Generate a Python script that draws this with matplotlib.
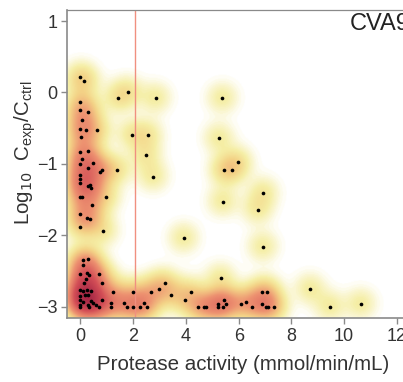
import numpy as np
import matplotlib
matplotlib.use("Agg")
import matplotlib.pyplot as plt
from matplotlib.colors import LinearSegmentedColormap

plt.rcParams['font.family'] = ['Liberation Sans', 'DejaVu Sans']

# protease activity (x) and log10 Cexp/Cctrl (y)
x_vals = [
    -0.03, 0.14, 0.00, 0.00, 0.27, 0.04, 0.00, 0.20, 0.64, 0.01, 0.00, 0.30, 0.04, 0.00, 0.47,
    0.28, 0.73, 0.83, 1.39, 0.00, 0.00, 0.00, 0.28, 0.35, 0.39, 0.00, 0.05, 0.97, 0.45, 0.00,
    0.23, 0.36, 0.00, 0.86,
    1.42, 1.80, 2.85, 5.38, 1.95, 2.56, 5.25, 2.48, 2.75, 5.96, 5.44, 5.73, 5.39, 6.94, 6.72,
    3.91, 6.92,
    0.09, 0.28, 0.11, 0.00, 0.25, 0.31, 0.71, 0.21, 0.15, 0.83, 0.00, 0.09, 0.23, 0.38, 1.25,
    2.01, 0.00, 0.16, 0.28, 0.00, 0.09, 0.40, 0.49, 0.83, 1.16, 1.64, 0.00, 0.30, 0.58, 0.00,
    0.31, 0.70, 1.14, 1.77, 2.01, 2.26, 2.42, 2.52, 2.69, 2.97, 3.19, 3.43, 3.96, 4.18, 4.47,
    4.68, 4.77, 5.31, 5.23, 5.23, 5.40, 5.45, 5.53, 6.10, 6.26, 6.50, 6.89, 7.06, 6.88, 7.02,
    7.11, 7.33, 8.71, 9.47, 10.64,
]
y_vals = [
    0.21, 0.16, -0.13, -0.24, -0.27, -0.39, -0.51, -0.53, -0.53, -0.63, -0.83, -0.82, -0.93, -1.00, -0.99,
    -1.05, -1.11, -1.09, -1.08, -1.15, -1.21, -1.26, -1.31, -1.29, -1.34, -1.46, -1.46, -1.46, -1.58, -1.70,
    -1.75, -1.77, -1.88, -1.94,
    -0.08, 0.01, -0.08, -0.08, -0.59, -0.59, -0.64, -0.88, -1.18, -0.97, -1.09, -1.08, -1.53, -1.40, -1.64,
    -2.04, -2.16,
    -2.35, -2.33, -2.41, -2.54, -2.53, -2.55, -2.54, -2.61, -2.67, -2.67, -2.76, -2.78, -2.77, -2.78, -2.79,
    -2.79, -2.85, -2.83, -2.84, -2.91, -2.93, -2.92, -2.95, -2.91, -2.95, -2.95, -2.97, -2.98, -2.97, -3.00,
    -3.00, -3.00, -3.00, -3.00, -3.00, -3.00, -2.95, -3.00, -2.79, -2.75, -2.67, -2.83, -2.91, -2.79, -3.00,
    -3.00, -3.00, -2.60, -2.96, -3.00, -3.00, -2.91, -2.96, -2.96, -2.93, -3.00, -2.79, -2.79, -2.96, -3.00,
    -3.00, -3.00, -2.75, -3.00, -2.96,
]
threshold_x = 2.07
title_text = "CVA9"
x_ticks = [0, 2, 4, 6, 8, 10, 12]
y_ticks = [-3, -2, -1, 0, 1]

W, H = 403, 382
fig = plt.figure(figsize=(W / 100, H / 100), dpi=100)
ax_left, ax_right = 67.3 / W, 418 / W
ax_bottom, ax_top = 1 - 318.3 / H, 1 - 10 / H
ax = fig.add_axes([ax_left, ax_bottom, ax_right - ax_left, ax_top - ax_bottom])

xlim = (-0.5, 12.8)
ylim = (-3.16, 1.154)
ax.set_xlim(*xlim)
ax.set_ylim(*ylim)

# density in pixel space
px_per_x = (ax_right - ax_left) * W / (xlim[1] - xlim[0])
px_per_y = (ax_top - ax_bottom) * H / (ylim[1] - ylim[0])
gx = np.linspace(xlim[0], xlim[1], 500)
gy = np.linspace(ylim[0], ylim[1], 400)
GX, GY = np.meshgrid(gx, gy)
D = np.zeros_like(GX)
sigma = 10.5
xs = np.array(x_vals)
ys = np.array(y_vals)
for xv, yv in zip(xs, ys):
    dx = (GX - xv) * px_per_x
    dy = (GY - yv) * px_per_y
    D += np.exp(-(dx ** 2 + dy ** 2) / (2 * sigma ** 2))

vmax = 24.0
nodes = [
    (0.0, (1.0, 1.0, 1.0)),
    (0.1, (0.997, 0.993, 0.96)),
    (0.4, (0.98, 0.965, 0.82)),
    (0.9, (0.962, 0.935, 0.65)),
    (1.9, (0.955, 0.83, 0.53)),
    (4.0, (0.93, 0.57, 0.44)),
    (8.0, (0.83, 0.31, 0.34)),
    (16.0, (0.60, 0.10, 0.25)),
    (24.0, (0.48, 0.05, 0.20)),
]
cmap = LinearSegmentedColormap.from_list("dens", [(v / vmax, c) for v, c in nodes])
ax.imshow(D, extent=[xlim[0], xlim[1], ylim[0], ylim[1]], origin='lower',
          cmap=cmap, vmin=0, vmax=vmax, aspect='auto', interpolation='bilinear', zorder=0)

ax.axvline(threshold_x, color='#f09080', lw=1.0, zorder=1)
ax.scatter(xs, ys, s=7, color='black', linewidths=0, zorder=3)

ax.text(10.2, 0.96, title_text, fontsize=17, color='#222222', va='center', ha='left')

spine_col = '#8a8a8a'
for s in ['left', 'bottom', 'top', 'right']:
    ax.spines[s].set_color(spine_col)
    ax.spines[s].set_linewidth(1.2)
ax.spines['top'].set_linewidth(0.9)

ax.set_xticks(x_ticks)
ax.set_yticks(y_ticks)
ax.tick_params(axis='both', direction='out', length=4, width=1, color=spine_col,
               labelsize=13, labelcolor='#333333', pad=3)

ax.set_xlabel("Protease activity (mmol/min/mL)", fontsize=14.8, color='#333333', labelpad=7)
ax.set_ylabel(r"Log$_{10}$  C$_{\mathregular{exp}}$/C$_{\mathregular{ctrl}}$", fontsize=14.8,
              color='#333333')
ax.yaxis.set_label_coords((38 - 67.3) / (ax_right - ax_left) / W, (318.3 - 153) / 308.3)

fig.savefig("out.png", dpi=100)
